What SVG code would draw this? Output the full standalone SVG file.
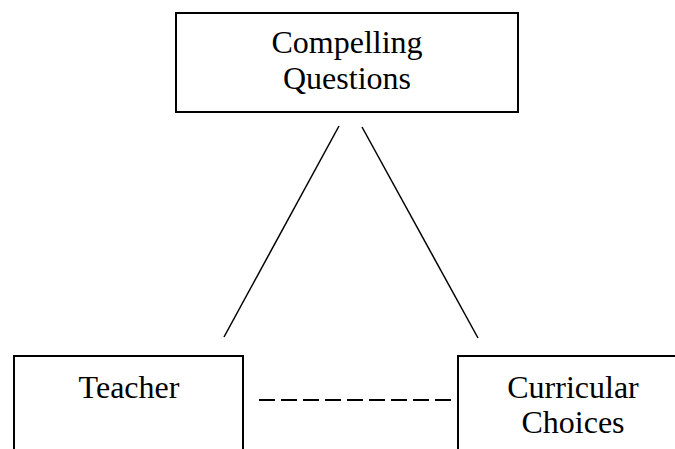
<svg xmlns="http://www.w3.org/2000/svg" width="675" height="449" viewBox="0 0 675 449">
<style>
.box{fill:#fff;stroke:#000;stroke-width:2}
.lbl{font-family:"Liberation Serif","Times New Roman",serif;font-size:32px;fill:#000;text-anchor:middle}
.edge{stroke:#000;stroke-width:1.5;fill:none}
.dash{stroke:#000;stroke-width:2;stroke-dasharray:16 6;fill:none}
</style>
<rect width="675" height="449" fill="#fff"/>
<g id="connectors">
<line class="edge" x1="339" y1="126" x2="224" y2="337"/>
<line class="edge" x1="362" y1="127" x2="478" y2="338"/>
<line class="dash" x1="259" y1="400" x2="452" y2="400"/>
</g>
<g id="compelling-questions">
<rect class="box" x="176" y="13" width="342" height="99"/>
<text class="lbl" x="347" y="53">Compelling</text>
<text class="lbl" x="347" y="89">Questions</text>
</g>
<g id="teacher">
<rect class="box" x="14" y="356" width="229" height="110"/>
<text class="lbl" x="129" y="398">Teacher</text>
</g>
<g id="curricular-choices">
<rect class="box" x="458" y="356" width="229" height="110"/>
<text class="lbl" x="573" y="398">Curricular</text>
<text class="lbl" x="573" y="433">Choices</text>
</g>
</svg>
